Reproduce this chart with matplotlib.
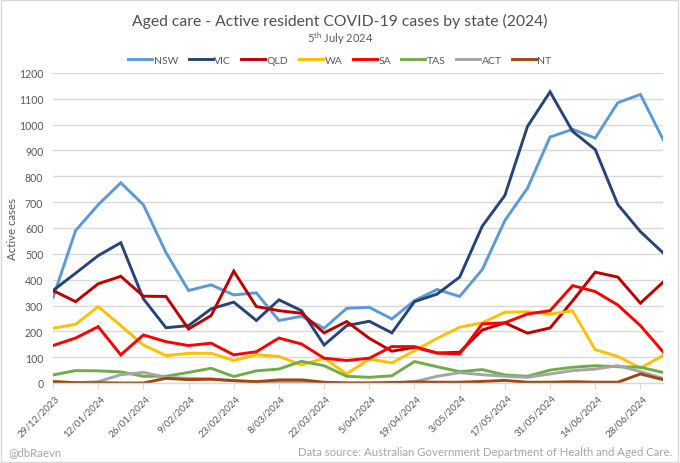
import matplotlib
matplotlib.use("Agg")
import matplotlib.pyplot as plt
import matplotlib.transforms as mtransforms
from matplotlib.patches import Rectangle

plt.rcParams['font.family'] = ['Lato', 'DejaVu Sans']
plt.rcParams['mathtext.fontset'] = 'custom'
plt.rcParams['mathtext.rm'] = 'Lato'

dates = ["29/12/2023", "5/01/2024", "12/01/2024", "19/01/2024", "26/01/2024", "2/02/2024",
         "9/02/2024", "16/02/2024", "23/02/2024", "1/03/2024", "8/03/2024", "15/03/2024",
         "22/03/2024", "29/03/2024", "5/04/2024", "12/04/2024", "19/04/2024", "26/04/2024",
         "3/05/2024", "10/05/2024", "17/05/2024", "24/05/2024", "31/05/2024", "7/06/2024",
         "14/06/2024", "21/06/2024", "28/06/2024", "5/07/2024"]

nsw = [330, 590, 690, 775, 690, 505, 358, 380, 341, 349, 242, 258, 212, 289, 293, 248, 319, 362, 335, 439, 629, 754, 952, 982, 948, 1085, 1117, 943]
vic = [358, 425, 493, 543, 326, 214, 222, 287, 313, 242, 322, 280, 147, 222, 239, 194, 315, 344, 410, 607, 726, 993, 1127, 974, 904, 691, 586, 504]
qld = [358, 315, 384, 413, 336, 335, 209, 261, 433, 296, 280, 270, 194, 238, 173, 123, 138, 116, 119, 205, 233, 193, 213, 318, 429, 410, 309, 390]
wa = [212, 227, 296, 222, 147, 106, 115, 115, 87, 109, 103, 70, 96, 35, 93, 78, 125, 173, 216, 233, 274, 276, 267, 279, 129, 103, 58, 106]
sa = [145, 174, 218, 109, 186, 160, 145, 154, 109, 121, 174, 151, 96, 87, 96, 141, 141, 116, 112, 229, 233, 267, 280, 377, 354, 302, 222, 121]
tas = [31, 48, 47, 43, 26, 26, 41, 57, 25, 47, 54, 84, 67, 26, 22, 28, 83, 63, 44, 52, 31, 26, 50, 61, 67, 63, 61, 41]
act = [2, 1, 5, 32, 41, 22, 18, 15, 9, 5, 5, 4, 1, 0, 0, 0, 5, 26, 40, 32, 26, 22, 35, 48, 54, 67, 44, 18]
nt = [6, 1, 1, 0, 0, 18, 13, 15, 9, 5, 12, 12, 3, 0, 0, 2, 4, 3, 3, 6, 10, 3, 3, 5, 3, 3, 35, 13]

states = ["NSW", "VIC", "QLD", "WA", "SA", "TAS", "ACT", "NT"]
series = [nsw, vic, qld, wa, sa, tas, act, nt]
colors = ["#5B9BD5", "#264478", "#C00000", "#FFC000", "#FF0000", "#70AD47", "#A5A5A5", "#9E480E"]

title = "Aged care - Active resident COVID-19 cases by state (2024)"
subtitle = r"5$^{\mathrm{th}}$ July 2024"
ylabel = "Active cases"
footer_left = "@dbRaevn"
footer_right = "Data source: Australian Government Department of Health and Aged Care."

fig = plt.figure(figsize=(6.8, 4.64), dpi=100)
ax = fig.add_axes([53/680, 1-384/464, (663-53)/680, (384-74)/464])

x = list(range(len(dates)))
lines = []
for name, vals, c in zip(states, series, colors):
    ln, = ax.plot(x, vals, color=c, lw=2.1, label=name, solid_joinstyle='miter')
    lines.append(ln)

ax.set_xlim(0, len(dates)-1)
ax.set_ylim(0, 1200)
ax.set_yticks(range(0, 1201, 100))
ax.grid(axis='y', color='#D9D9D9', lw=1.0)
ax.set_axisbelow(True)
for s in ['top', 'right', 'left']:
    ax.spines[s].set_visible(False)
ax.spines['bottom'].set_color('#D9D9D9')
ax.spines['bottom'].set_linewidth(1.0)
ax.tick_params(axis='y', length=0, pad=7, labelsize=7.6, labelcolor='#595959')
ax.set_xticks(x[::2])
ax.set_xticklabels(dates[::2], rotation=45, ha='right', va='center', rotation_mode='anchor',
                   fontsize=7.0, color='#595959')
ax.tick_params(axis='x', length=4, color='#D9D9D9', pad=5.5)
offset = mtransforms.ScaledTranslation(5/100, 0, fig.dpi_scale_trans)
for lab in ax.get_xticklabels():
    lab.set_transform(lab.get_transform() + offset)
ax.set_ylabel(ylabel, fontsize=8.2, color='#595959')
ax.yaxis.set_label_coords(-0.058, 0.5)

fig.text(0.5, 1-21/464, title, ha='center', va='center', fontsize=11.3, color='#505050')
fig.text(0.5, 1-39/464, subtitle, ha='center', va='center', fontsize=8, color='#595959')
fig.legend(handles=lines, loc='center', bbox_to_anchor=(0.5, 1-61/464), ncol=8, frameon=False,
           fontsize=7.5, handlelength=2.3, handletextpad=0.15, columnspacing=1.0,
           labelcolor='#595959')

fig.text(8/680, 1-453/464, footer_left, ha='left', va='center', fontsize=8.2, color='#A6A6A6')
fig.text(672/680, 1-453/464, footer_right, ha='right', va='center', fontsize=8.2, color='#A6A6A6')

fig.patches.append(Rectangle((0.002, 0.003), 0.995, 0.994, transform=fig.transFigure,
                             fill=False, edgecolor='#D9D9D9', lw=1.0))

fig.savefig("out.png", dpi=100, facecolor='white')
